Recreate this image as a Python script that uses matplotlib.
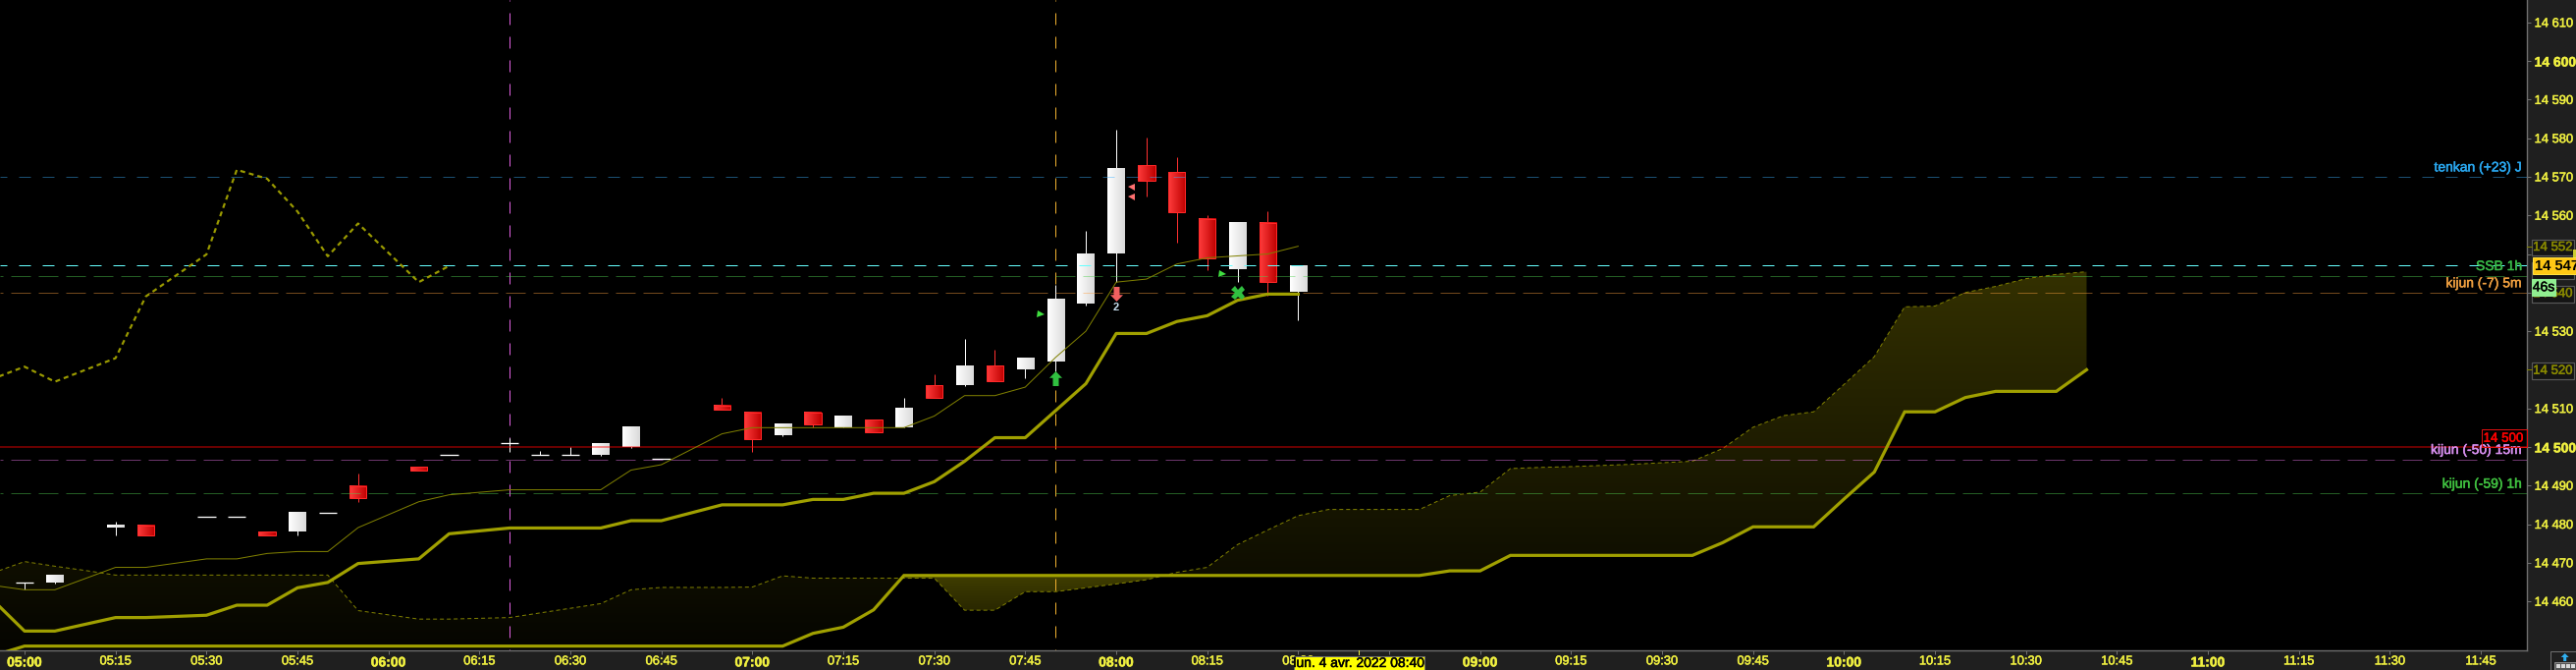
"""Intraday candles with ichimoku lines, 5 minute bars, lun. 4 avr. 2022"""

import numpy as np
import matplotlib

matplotlib.use("Agg")
import matplotlib.pyplot as plt
import matplotlib.patheffects as pe
from matplotlib.path import Path
from matplotlib.patches import Rectangle

plt.rcParams["font.family"] = ["Liberation Sans", "DejaVu Sans"]
plt.rcParams["lines.scale_dashes"] = False

W, H = 2624, 682
PX = 0.72  # one pixel in points at dpi 100

# bars are numbered from 05:00, one bar is 5 minutes
candle_idx = [0, 1, 3, 4, 6, 7, 8, 9, 10, 11, 13, 14, 16, 17, 18, 19, 20, 21,
              23, 24, 25, 26, 27, 28, 29, 30, 31, 32, 33, 34, 35, 36, 37, 38,
              39, 40, 41, 42]
opens = [14464.8, 14464.9, 14479.2, 14479.7, 14481.8, 14481.8, 14478.0, 14478.1,
         14483.0, 14489.9, 14494.8, 14497.9, 14500.9, 14497.9, 14497.9, 14498.0,
         14500.0, 14496.9, 14510.8, 14509.0, 14503.0, 14509.0, 14505.0, 14507.0,
         14505.0, 14516.0, 14516.0, 14521.0, 14520.1, 14522.1, 14537.2, 14550.1,
         14573.0, 14571.3, 14559.0, 14546.0, 14558.0, 14540.2]
closes = [14464.8, 14466.9, 14479.9, 14477.0, 14481.8, 14481.8, 14477.0, 14483.0,
          14483.0, 14486.8, 14494.0, 14497.9, 14500.9, 14497.9, 14497.9, 14501.0,
          14505.1, 14496.9, 14509.7, 14501.9, 14506.0, 14505.9, 14508.0, 14503.9,
          14510.0, 14512.8, 14521.0, 14517.0, 14523.1, 14538.2, 14550.1, 14572.0,
          14569.0, 14560.9, 14548.8, 14558.0, 14542.7, 14547.0]
highs = [14464.8, 14466.9, 14480.7, 14479.7, 14481.8, 14481.8, 14478.0, 14483.0,
         14483.0, 14493.1, 14494.8, 14497.9, 14502.4, 14499.0, 14499.9, 14501.0,
         14505.1, 14496.9, 14512.8, 14509.0, 14506.0, 14509.0, 14508.0, 14507.0,
         14512.8, 14518.9, 14528.0, 14525.2, 14523.1, 14542.0, 14556.0, 14582.2,
         14580.1, 14575.0, 14560.0, 14558.0, 14561.1, 14547.0]
lows = [14463.2, 14464.6, 14477.0, 14477.0, 14481.8, 14481.8, 14477.0, 14477.0,
        14483.0, 14485.8, 14494.0, 14497.9, 14498.8, 14497.9, 14497.9, 14497.8,
        14499.8, 14496.9, 14509.7, 14498.8, 14502.8, 14505.1, 14505.0, 14503.9,
        14505.0, 14512.8, 14515.7, 14517.0, 14517.8, 14519.5, 14536.7, 14542.7,
        14564.9, 14552.9, 14545.8, 14542.7, 14539.2, 14532.8]

tenkan_idx = [-1, 0, 1, 3, 4, 6, 7, 8, 9, 10, 11, 13, 14, 16, 19, 20, 21, 23, 24,
              29, 30, 31, 32, 33, 34, 35, 36, 37, 38, 39, 41, 42]
tenkan = [14464.1, 14463.0, 14463.0, 14468.8, 14468.8, 14471.0, 14471.0, 14472.4,
          14472.9, 14472.9, 14479.1, 14485.8, 14487.6, 14488.9, 14488.9, 14494.0,
          14495.4, 14503.4, 14505.0, 14505.0, 14508.0, 14513.3, 14513.3, 14515.5,
          14523.2, 14530.0, 14542.7, 14543.5, 14547.4, 14549.0, 14550.0, 14552.0]

kijun_idx = [-1, 0, 1, 3, 4, 6, 7, 8, 9, 10, 11, 13, 14, 16, 19, 20, 21, 23, 25,
             26, 27, 28, 29, 30, 31, 32, 33, 34, 35, 36, 37, 38, 39, 40, 41, 42]
kijun = [14460.0, 14452.3, 14452.3, 14455.8, 14455.8, 14456.4, 14459.0, 14459.0,
         14463.5, 14464.9, 14469.8, 14471.0, 14477.5, 14479.0, 14479.0, 14480.9,
         14480.9, 14485.0, 14485.0, 14486.4, 14486.4, 14488.0, 14488.0, 14491.0,
         14496.3, 14502.4, 14502.4, 14509.4, 14516.4, 14529.4, 14529.4, 14532.5,
         14534.0, 14538.0, 14539.6, 14539.6]

chikou_idx = [-1, 0, 1, 3, 4, 6, 7, 8, 9, 10, 11, 13, 14]
chikou = [14517.8, 14520.8, 14516.9, 14523.0, 14539.0, 14549.9, 14571.8, 14569.5,
          14561.0, 14549.4, 14557.9, 14542.7, 14546.9]

cloud_idx = list(range(-1, 69))
ssa = [14467.5, 14470.3, 14469.1, 14468.0, 14466.8, 14466.8, 14466.8, 14466.8,
       14466.8, 14466.8, 14466.8, 14466.8, 14457.6, 14456.5, 14455.4, 14455.4,
       14455.6, 14455.8, 14457.0, 14458.2, 14459.4, 14463.0, 14463.6, 14463.6,
       14463.6, 14463.7, 14466.6, 14466.0, 14466.0, 14466.0, 14466.0, 14466.0,
       14457.7, 14457.7, 14462.5, 14462.5, 14463.5, 14464.5, 14465.6, 14467.5,
       14468.8, 14474.7, 14478.5, 14482.2, 14483.8, 14483.8, 14483.8, 14483.8,
       14487.4, 14488.3, 14494.4, 14494.7, 14494.9, 14495.2, 14495.5, 14495.9,
       14496.3, 14499.6, 14505.1, 14508.1, 14509.1, 14516.2, 14523.4, 14536.3,
       14536.5, 14540.0, 14541.6, 14543.6, 14544.7, 14545.4]
ssb = [14446.0] + [14448.4] * 26 + [14451.7, 14453.3, 14457.8, 14466.7] \
    + [14466.7] * 17 + [14467.9, 14467.9] + [14471.9] * 7 \
    + [14475.2, 14479.3, 14479.3, 14479.3, 14486.5, 14493.5, 14509.1, 14509.1,
       14512.8, 14514.4, 14514.4, 14514.4, 14520.0]

level_values = [14570, 14547, 14544.4, 14540, 14496.8, 14488]
level_colors = ["#3db0ff", "#66ffff", "#50d050", "#ffa040", "#ff80ff", "#50d050"]
level_alpha = [0.45, 1.0, 0.45, 0.45, 0.42, 0.45]
# dash on, off and offset in pixels
level_dash = [(12, 12, 5), (12, 12, 5), (20, 8, 17), (20, 8, 17), (20, 8, 17), (20, 8, 17)]

level_names = ["tenkan (+23) J", "SSB 1h", "kijun (-7) 5m", "kijun (-50) 15m", "kijun (-59) 1h"]
name_levels = [14570, 14544.4, 14540, 14496.8, 14488]
name_colors = ["#2aa8f0", "#38b848", "#f0a040", "#d890f0", "#40c040"]

time_ticks = list(range(0, 82, 3))
time_labels = ["05:00", "05:15", "05:30", "05:45", "06:00", "06:15", "06:30", "06:45",
               "07:00", "07:15", "07:30", "07:45", "08:00", "08:15", "08:30", "",
               "09:00", "09:15", "09:30", "09:45", "10:00", "10:15", "10:30", "10:45",
               "11:00", "11:15", "11:30", "11:45"]
price_ticks = list(range(14460, 14611, 10))
boxed_prices = [14552, 14546, 14540, 14520]

OLIVE = "#a0a000"
OLIVE_THIN = "#808000"
TICK_YELLOW = "#f0f040"
PANEL = "#1f1f1f"
GREY = "#6e6e6e"


def price_text(v):
    return f"{v:,}".replace(",", " ")


def thicken(text, width=0.35):
    """the chart font is heavier than Liberation at this size"""
    text.set_path_effects([pe.withStroke(linewidth=width, foreground=text.get_color())])


def gradient(ax, x0, x1, y0, y1, c0, c1, vertical=False, zorder=1):
    """c0 to c1, left to right or bottom to top"""
    t = np.linspace(0, 1, 64)
    rgb = np.outer(1 - t, c0) + np.outer(t, c1)
    img = rgb[:, None, :] if vertical else rgb[None, :, :]
    return ax.imshow(img / 255, extent=(x0, x1, y0, y1), origin="lower",
                     aspect="auto", interpolation="bilinear", zorder=zorder)


def fig_box(fig, x0, y0, x1, y1, **kw):
    """rectangle given in image pixels"""
    r = Rectangle((x0 / W, 1 - y1 / H), (x1 - x0) / W, (y1 - y0) / H,
                  transform=fig.transFigure, **kw)
    fig.add_artist(r)
    return r


def main():
    fig = plt.figure(figsize=(W / 100, H / 100), dpi=100, facecolor=PANEL)
    ax = fig.add_axes([0, 20 / H, 2574 / W, 662 / H], facecolor="black")
    xlim = (-0.809, 82.52)
    ylim = (14447.3, 14615.8)

    # cloud, the fill follows the height of the chart
    x = np.array(cloud_idx, dtype=float)
    a, b = np.array(ssa), np.array(ssb)
    up = ax.fill_between(x, a, b, where=a >= b, interpolate=True, alpha=0)
    down = ax.fill_between(x, a, b, where=b >= a, interpolate=True, alpha=0)
    im = gradient(ax, x[0], x[-1], ylim[0], 14547, (5, 5, 0), (52, 49, 0), vertical=True)
    im.set_clip_path(Path.make_compound_path(*up.get_paths()), ax.transData)
    im2 = gradient(ax, x[0], x[-1], 14457, 14467, (40, 38, 0), (64, 62, 0), vertical=True)
    im2.set_clip_path(Path.make_compound_path(*down.get_paths()), ax.transData)
    ax.plot(x, a, color=OLIVE_THIN, lw=PX, ls=(0, (4 * PX, 3 * PX)), zorder=2)
    ax.plot(x, b, color=OLIVE, lw=3.2 * PX, zorder=6, solid_joinstyle="miter")

    # time markers
    ax.axvline(16, color="#e060e0", lw=PX, ls=(7.9, (12 * PX, 12 * PX)), zorder=2)
    ax.axvline(34, color="#f0b030", lw=PX, ls=(7.9, (12 * PX, 12 * PX)), zorder=2)

    # candles
    for i, o, c, hi, lo in zip(candle_idx, opens, closes, highs, lows):
        red = c < o
        ax.vlines(i, lo, hi, color="#ff3030" if red else "white", lw=PX, zorder=3)
        top, bot = max(o, c), min(o, c)
        if top - bot < 0.2:
            ax.hlines(top, i - 0.3, i + 0.3, color="white", lw=1.3 * PX, zorder=4)
        elif red:
            gradient(ax, i - 0.28, i + 0.28, bot, top, (255, 60, 60), (190, 0, 0), zorder=4)
            ax.add_patch(Rectangle((i - 0.28, bot), 0.56, top - bot, fill=False,
                                   ec="#ff2828", lw=PX, zorder=4))
        else:
            gradient(ax, i - 0.28, i + 0.28, bot, top, (255, 255, 255), (218, 218, 218), zorder=4)

    # price levels go over the candles
    for v, col, al, (on, off, phase) in zip(level_values, level_colors, level_alpha, level_dash):
        ax.axhline(v, color=col, alpha=al, lw=PX, ls=(phase * PX, (on * PX, off * PX)), zorder=5)
    ax.axhline(14500, color="#ff0000", alpha=0.55, lw=1.5 * PX, zorder=5)

    # ichimoku lines
    ax.plot(tenkan_idx, tenkan, color=OLIVE_THIN, lw=PX, zorder=6)
    ax.plot(kijun_idx, kijun, color=OLIVE, lw=3.2 * PX, zorder=6)
    ax.plot(chikou_idx, chikou, color="#9a9a00", lw=2.2 * PX, ls=(0, (5 * PX, 4 * PX)), zorder=6)

    # signals
    up_arrow = [(0, 1), (0.87, 0.1), (0.4, 0.1), (0.4, -1), (-0.4, -1), (-0.4, 0.1), (-0.87, 0.1), (0, 1)]
    down_arrow = [(px, -py) for px, py in up_arrow]
    ax.plot([34], [14517.9], marker=Path(up_arrow), ms=15 * PX, color="#30c040", mew=0, zorder=7)
    ax.plot([36], [14539.8], marker=Path(down_arrow), ms=15 * PX, color="#f06060", mew=0, zorder=7)
    ax.text(36, 14536.2, "2", color="#c8e0f0", fontsize=8, fontweight="bold",
            ha="center", va="center", zorder=7)
    ax.plot([33.5, 39.5], [14534.4, 14544.9], ls="", marker=">", ms=7 * PX, color="#40e040", mew=0, zorder=7)
    ax.plot([36.5, 36.5], [14567.5, 14565.0], ls="", marker="<", ms=7 * PX, color="#ff7070", mew=0, zorder=7)
    ax.plot([40], [14539.9], ls="", marker="X", ms=14 * PX, color="#30c040", mew=0, zorder=7)

    ax.set_xlim(xlim)
    ax.set_ylim(ylim)

    # axes
    ax.yaxis.tick_right()
    for side in ("left", "top"):
        ax.spines[side].set_visible(False)
    for side in ("right", "bottom"):
        ax.spines[side].set_color(GREY)
        ax.spines[side].set_linewidth(1.4 * PX)
    ax.tick_params(colors=GREY, length=4 * PX, width=PX)
    ax.tick_params(axis="x", pad=1.0)
    ax.tick_params(axis="y", pad=2.6)
    ax.set_xticks(time_ticks)
    ax.set_xticklabels(time_labels)
    for lab, t in zip(ax.get_xticklabels(), time_labels):
        hourly = t.endswith(":00")
        lab.set(color=TICK_YELLOW, fontsize=10 if hourly else 9.3,
                fontweight="bold" if hourly else "normal")
        thicken(lab)
    ax.set_yticks(price_ticks)
    hidden = {14520, 14540, 14550}
    ax.set_yticklabels(["" if v in hidden else price_text(v) for v in price_ticks])
    for lab, v in zip(ax.get_yticklabels(), price_ticks):
        big = v % 100 == 0
        lab.set(color=TICK_YELLOW, fontsize=10 if big else 9.3,
                fontweight="bold" if big else "normal")
        thicken(lab)

    # names sitting just above their level
    trans = ax.get_yaxis_transform()
    for name, v, col in zip(level_names, name_levels, name_colors):
        t = ax.annotate(name, xy=(2569 / 2574, v), xycoords=trans, xytext=(0, 9.5 * PX),
                        textcoords="offset points", ha="right", va="center",
                        color=col, fontsize=10, zorder=8)
        thicken(t)

    # red box for the round number
    ax.add_patch(Rectangle((2527.5 / 2574, 14500), 46.5 / 2574, 17.8 / 3.93, transform=trans,
                           fill=False, ec="#e01010", lw=PX, zorder=8, clip_on=False))
    thicken(ax.text(2550 / 2574, 14502.1, "14 500", transform=trans, color="#ff0000",
                    fontsize=9.6, ha="center", va="center", zorder=8))

    # boxed prices on the axis
    for v in boxed_prices:
        rect = Rectangle((2579 / 2574, v - 2.5), 42.7 / 2574, 4.3, transform=trans,
                         fc="#141414", ec="#585858", lw=1.2 * PX, zorder=9, clip_on=False)
        ax.add_patch(rect)
        thicken(ax.text(2600.5 / 2574, v - 0.35, price_text(v), transform=trans, color="#8a8a00",
                        fontsize=9.5, ha="center", va="center", zorder=9, clip_on=False))
    for v in (14552, 14520):
        ax.plot([1, 2579 / 2574], [v, v], transform=trans, color="#808000", lw=PX,
                clip_on=False, zorder=9)

    # last price and countdown
    ax.add_patch(Rectangle((2580 / 2574, 14547 - 2.2), 44 / 2574, 4.4, transform=trans,
                           fc="#ffc814", ec="#ffe040", lw=PX, zorder=10, clip_on=False))
    ax.text(2582 / 2574, 14547 - 0.1, price_text(14547), transform=trans, color="black",
            fontsize=10.6, fontweight="bold", ha="left", va="center", zorder=11, clip_on=False)
    ax.add_patch(Rectangle((2579 / 2574, 14541.4 - 2.1), 24 / 2574, 4.2, transform=trans,
                           fc="#90ee90", ec="#90ee90", lw=PX, zorder=10, clip_on=False))
    thicken(ax.text(2591 / 2574, 14541.4, "46s", transform=trans, color="black", fontsize=10,
                    ha="center", va="center", zorder=11, clip_on=False))
    fig_box(fig, 2621, 254, 2624, 262, fc="#cccc30", ec="none")

    # crosshair time
    ax.plot([44, 44], [-4 / 662, 0], transform=ax.get_xaxis_transform(), color=TICK_YELLOW,
            lw=PX, clip_on=False, zorder=5)
    fig_box(fig, 1318, 667.5, 1451, 682, fc="#ffff00", ec=GREY, lw=PX, zorder=5)
    thicken(fig.text(1384.5 / W, 1 - 675 / H, "lun. 4 avr. 2022 08:40", color="black", fontsize=10,
                     ha="center", va="center", zorder=6))

    # scroll button, bottom right
    fig_box(fig, 2597.5, 663, 2626, 684, fc=PANEL, ec=GREY, lw=PX)
    arrow_px = [(2612.7, 665), (2616.7, 669), (2614.2, 669), (2614.2, 673),
                (2611.2, 673), (2611.2, 669), (2608.7, 669)]
    fig.add_artist(plt.Polygon([(px / W, 1 - py / H) for px, py in arrow_px], closed=True,
                               fc="#30b0f0", ec="none", transform=fig.transFigure))
    fig_box(fig, 2602, 674, 2624, 682, fc="#555555", ec="#888888", lw=PX)
    for k in range(4):
        fig_box(fig, 2604 + 5 * k, 676, 2608 + 5 * k, 680, fc="#d8d8d8", ec="none")

    fig.savefig("out.png", dpi=100, facecolor=PANEL)


if __name__ == "__main__":
    main()
